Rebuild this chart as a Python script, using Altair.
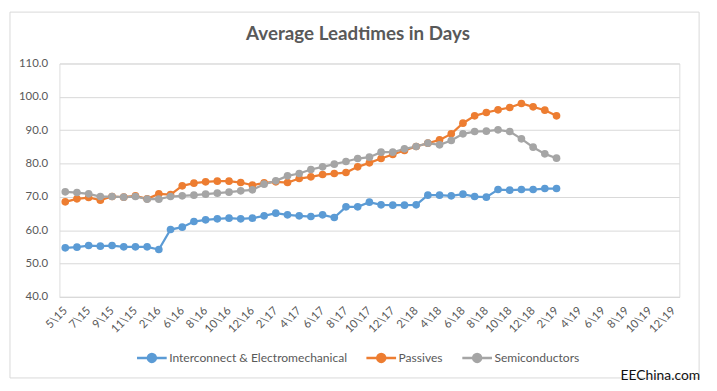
import altair as alt
import pandas as pd

categories = ["5\\15", "6\\15", "7\\15", "8\\15", "9\\15", "10\\15", "11\\15", "12\\15", "2\\16", "4\\16",
              "6\\16", "7\\16", "8\\16", "9\\16", "10\\16", "11\\16", "12\\16",
              "1\\17", "2\\17", "3\\17", "4\\17", "5\\17", "6\\17", "7\\17", "8\\17", "9\\17", "10\\17", "11\\17", "12\\17",
              "1\\18", "2\\18", "3\\18", "4\\18", "5\\18", "6\\18", "7\\18", "8\\18", "9\\18", "10\\18", "11\\18", "12\\18",
              "1\\19", "2\\19", "3\\19", "4\\19", "5\\19", "6\\19", "7\\19", "8\\19", "9\\19", "10\\19", "11\\19", "12\\19"]

tick_labels = ["5\\15", "7\\15", "9\\15", "11\\15", "2\\16", "6\\16", "8\\16", "10\\16", "12\\16",
               "2\\17", "4\\17", "6\\17", "8\\17", "10\\17", "12\\17", "2\\18", "4\\18", "6\\18", "8\\18",
               "10\\18", "12\\18", "2\\19", "4\\19", "6\\19", "8\\19", "10\\19", "12\\19"]

series_names = ["Interconnect & Electromechanical", "Passives", "Semiconductors"]
series_colors = ["#5B9BD5", "#ED7D31", "#A5A5A5"]

interconnect = [54.7, 54.9, 55.4, 55.2, 55.4, 55.0, 55.0, 55.0, 54.2, 60.2,
                60.9, 62.6, 63.1, 63.4, 63.6, 63.4, 63.6, 64.3, 65.1, 64.6,
                64.3, 64.1, 64.6, 63.8, 67.0, 67.0, 68.4, 67.6, 67.5, 67.5,
                67.6, 70.5, 70.5, 70.3, 70.8, 70.1, 69.9, 72.2, 72.0, 72.2,
                72.2, 72.5, 72.5]

passives = [68.5, 69.4, 69.8, 69.0, 70.1, 69.9, 70.3, 69.4, 70.9, 70.7,
            73.3, 74.1, 74.5, 74.7, 74.7, 74.3, 73.5, 74.2, 74.5, 74.3,
            75.5, 76.0, 76.7, 77.0, 77.3, 79.0, 80.2, 81.5, 82.7, 83.9,
            85.1, 86.1, 87.1, 88.9, 92.1, 94.3, 95.3, 96.1, 96.8, 98.0,
            97.0, 96.0, 94.3]

semiconductors = [71.5, 71.3, 70.9, 70.1, 70.1, 69.9, 70.1, 69.3, 69.3, 70.1,
                  70.3, 70.5, 70.8, 71.1, 71.4, 71.8, 72.1, 73.8, 74.8, 76.3,
                  77.0, 78.2, 79.0, 79.8, 80.6, 81.5, 81.9, 83.4, 83.4, 84.4,
                  85.1, 86.1, 85.6, 86.9, 88.9, 89.6, 89.7, 90.1, 89.6, 87.4,
                  84.9, 82.9, 81.6]

y_ticks = [40, 50, 60, 70, 80, 90, 100, 110]

title_text = "Average Leadtimes in Days"
watermark_text = "EEChina.com"

rows = []
for name, vals in zip(series_names, [interconnect, passives, semiconductors]):
    for i, v in enumerate(vals):
        rows.append({"month": categories[i], "value": v, "series": name})
df = pd.DataFrame(rows)

FONT = "Lato"
TXT = "#595959"

x_enc = alt.X("month:O", sort=categories,
              scale=alt.Scale(domain=categories, type="point", padding=0.5),
              axis=alt.Axis(values=tick_labels, labelAngle=-45, labelAlign="right", labelBaseline="middle",
                            labelPadding=12, ticks=False, domain=True, domainColor="#D9D9D9",
                            labelFont=FONT, labelFontSize=11.5, labelColor=TXT, title=None, grid=False))
y_enc = alt.Y("value:Q", scale=alt.Scale(domain=[40, 110], nice=False, zero=False),
              axis=alt.Axis(values=y_ticks, format=".1f", ticks=False, domain=False, grid=True,
                            gridColor="#D9D9D9", labelFont=FONT, labelFontSize=11.5, labelColor=TXT,
                            labelPadding=12, title=None))

color_scale = alt.Scale(domain=series_names, range=series_colors)

legend = alt.Legend(
    orient="none", legendX=77, legendY=281, direction="horizontal", title=None,
    symbolType="M-1,0L1,0M-0.27,0A0.27,0.27,0,1,0,0.27,0A0.27,0.27,0,1,0,-0.27,0Z",
    symbolSize=900, symbolStrokeWidth=2.5, labelFont=FONT, labelFontSize=12.2, labelColor=TXT,
    labelOffset=1, columnPadding=14, labelLimit=0)

base = alt.Chart(df)

border = alt.Chart(pd.DataFrame({"a": [0]})).mark_rect(fillOpacity=0, stroke="#D9D9D9", strokeWidth=1).encode(
    x=alt.value(-50), x2=alt.value(647), y=alt.value(-52), y2=alt.value(318))

lines = base.mark_line(strokeWidth=2.25).encode(
    x=x_enc, y=y_enc, color=alt.Color("series:N", scale=color_scale, sort=series_names, legend=legend))

points = base.mark_circle(size=60, opacity=1).encode(
    x=x_enc, y=y_enc, color=alt.Color("series:N", scale=color_scale, sort=series_names, legend=legend))

title = alt.Chart(pd.DataFrame({"t": [title_text]})).mark_text(
    font=FONT, fontSize=19, fontWeight="bold", color=TXT, align="center", baseline="middle").encode(
    text="t:N", x=alt.value(302), y=alt.value(-30))

watermark = alt.Chart(pd.DataFrame({"t": [watermark_text]})).mark_text(
    font="Lato", fontSize=14, color="#111111", align="right", baseline="middle").encode(
    text="t:N", x=alt.value(648), y=alt.value(316))

chart = alt.layer(border, lines, points, title, watermark).properties(
    width=627, height=236,
    autosize=alt.AutoSizeParams(type="none"),
    padding={"left": 52, "top": 54, "right": 30, "bottom": 90},
).configure_view(stroke=None).configure(background="white")

chart.save("out.html", embed_options={"renderer": "svg", "actions": False})
